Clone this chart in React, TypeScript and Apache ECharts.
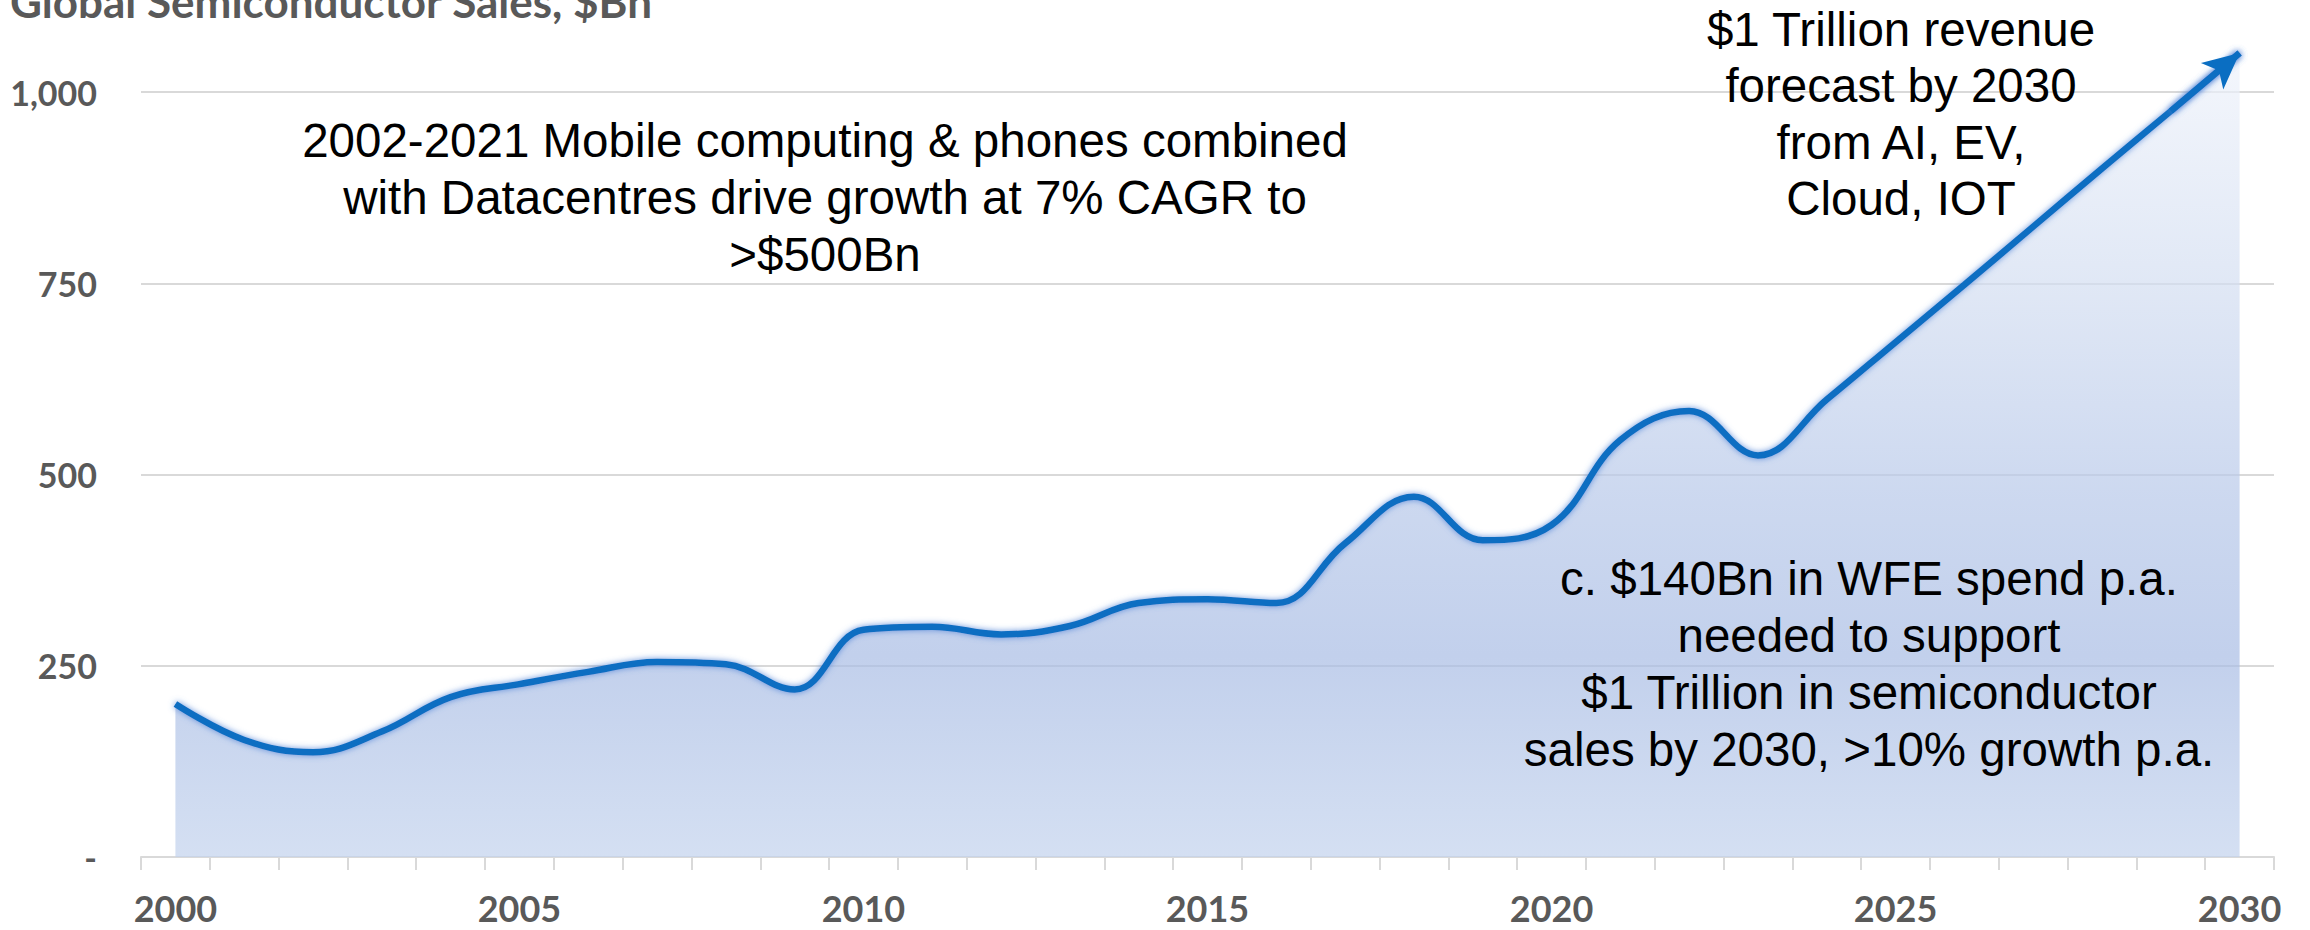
import React, { useEffect, useRef } from 'react';
import * as echarts from 'echarts';

const years = [
  '2000', '2001', '2002', '2003', '2004', '2005', '2006', '2007', '2008', '2009',
  '2010', '2011', '2012', '2013', '2014', '2015', '2016', '2017', '2018', '2019',
  '2020', '2021', '2022', '2023', '2024', '2025', '2026', '2027', '2028', '2029', '2030',
];

const sales = [
  200, 153, 137, 164, 209, 226, 242, 255, 252, 219,
  297, 301, 291, 302, 332, 337, 332, 410, 471, 414,
  434, 545, 583, 525, 598, 673, 748, 824, 900, 975, 1051,
];

const yTickLabels: Record<number, string> = {
  0: '-',
  250: '250',
  500: '500',
  750: '750',
  1000: '1,000',
};

const titleText = 'Global Semiconductor Sales, $Bn';

const noteGrowth = [
  '2002-2021 Mobile computing & phones combined',
  'with Datacentres drive growth at 7% CAGR to',
  '>$500Bn',
];

const noteForecast = ['$1 Trillion revenue', 'forecast by 2030', 'from AI, EV,', 'Cloud, IOT'];

const noteWfe = [
  'c. $140Bn in WFE spend p.a.',
  'needed to support',
  '$1 Trillion in semiconductor',
  'sales by 2030, >10% growth p.a.',
];

const LINE_COLOR = '#0a6ec2';
const GLOW = 'rgba(80,130,215,0.85)';
const AXIS_GREY = '#d9d9d9';
const LABEL_GREY = '#595959';
const NOTE_FONT = '"Liberation Sans", Arial, sans-serif';
const AXIS_FONT = 'Lato, "Open Sans", sans-serif';

export default function App() {
  const ref = useRef<HTMLDivElement>(null);

  useEffect(() => {
    if (!ref.current) return;
    const chart = echarts.init(ref.current, null, { renderer: 'svg' });
    const last = years.length - 1;

    const noteText = (lines: string[], x: number, y: number, lineHeight: number) => ({
      type: 'text',
      x,
      y,
      z: 100,
      silent: true,
      style: {
        text: lines.join('\n'),
        fontFamily: NOTE_FONT,
        fontSize: 47.5,
        lineHeight,
        fill: '#000000',
        align: 'center',
        verticalAlign: 'middle',
      },
    });

    chart.setOption({
      animation: false,
      backgroundColor: '#ffffff',
      grid: { left: 141, right: 36, top: 15.5, bottom: 73, containLabel: false },
      xAxis: {
        type: 'category',
        data: years,
        boundaryGap: true,
        axisLine: { show: true, lineStyle: { color: AXIS_GREY, width: 2 } },
        axisTick: { show: true, interval: 0, length: 13, lineStyle: { color: AXIS_GREY, width: 2 } },
        axisLabel: {
          interval: 4,
          margin: 33,
          fontFamily: AXIS_FONT,
          fontWeight: 'bold',
          fontSize: 36,
          lineHeight: 36,
          color: LABEL_GREY,
        },
        splitLine: { show: false },
      },
      yAxis: {
        type: 'value',
        min: 0,
        max: 1100,
        interval: 250,
        axisLine: { show: false },
        axisTick: { show: false },
        splitLine: { show: true, showMaxLine: false, lineStyle: { color: AXIS_GREY, width: 2 } },
        axisLabel: {
          margin: 44,
          showMaxLabel: false,
          fontFamily: AXIS_FONT,
          fontWeight: 'bold',
          fontSize: 34,
          color: LABEL_GREY,
          formatter: (v: number) => (yTickLabels[v] !== undefined ? yTickLabels[v] : ''),
        },
      },
      series: [
        {
          type: 'line',
          data: sales,
          smooth: 0.4,
          symbol: 'none',
          lineStyle: {
            color: LINE_COLOR,
            width: 6.5,
            shadowColor: GLOW,
            shadowBlur: 6,
          },
          areaStyle: {
            color: {
              type: 'linear',
              x: 0,
              y: 0,
              x2: 0,
              y2: 1,
              colorStops: [
                { offset: 0, color: '#eff3fb' },
                { offset: 0.3, color: '#d2ddf1' },
                { offset: 0.55, color: '#b7c8e9' },
                { offset: 0.75, color: '#a8bce4' },
                { offset: 1, color: '#c2d2ed' },
              ],
            },
          },
          markLine: {
            silent: true,
            symbol: ['none', 'arrow'],
            symbolSize: [26, 36],
            label: { show: false },
            lineStyle: {
              color: LINE_COLOR,
              width: 6.5,
              type: 'solid',
              shadowColor: GLOW,
              shadowBlur: 6,
            },
            data: [
              [
                { coord: [years[last - 1], sales[last - 1]] },
                { coord: [years[last], sales[last]] },
              ],
            ],
          },
        },
      ],
      graphic: [
        {
          type: 'text',
          x: 10,
          y: 1,
          z: 100,
          silent: true,
          style: {
            text: titleText,
            fontFamily: AXIS_FONT,
            fontWeight: 'bold',
            fontSize: 44,
            fill: LABEL_GREY,
            align: 'left',
            verticalAlign: 'middle',
          },
        },
        noteText(noteGrowth, 825, 197.5, 57),
        noteText(noteForecast, 1901, 114, 56.5),
        noteText(noteWfe, 1869, 664, 57),
      ],
    });

    return () => {
      chart.dispose();
    };
  }, []);

  return (
    <div
      ref={ref}
      style={{ position: 'absolute', left: 0, top: 0, width: 2310, height: 930 }}
    />
  );
}
